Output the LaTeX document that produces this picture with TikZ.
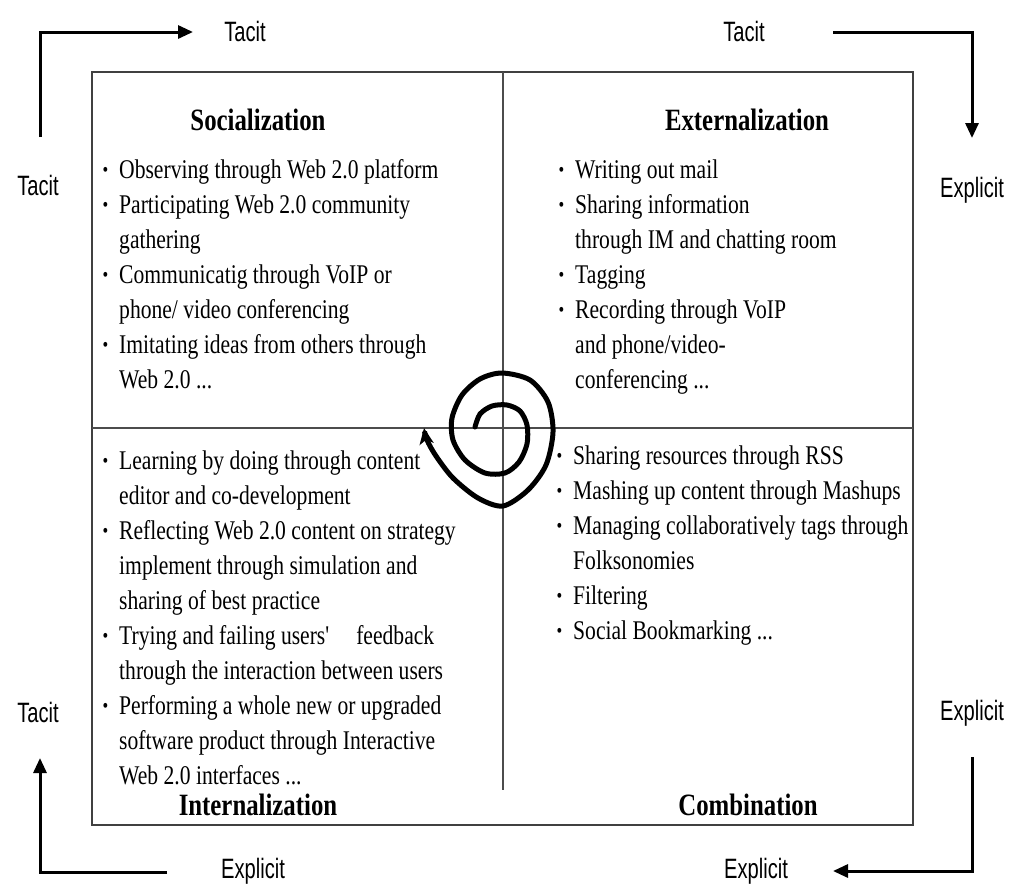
\documentclass[tikz,border=0pt]{standalone}
\usepackage{fontspec}
\usetikzlibrary{arrows.meta,calc}
\newfontfamily\serifnarrow{Liberation Serif}[FakeStretch=0.8]
\newfontfamily\sansnarrow{Liberation Sans}[FakeStretch=0.72]
\newcommand\itm{\llap{\raisebox{1.5pt}{\scalebox{0.75}{\textbullet}}\hspace{11pt}}}
\begin{document}
\begin{tikzpicture}[x=1pt,y=-1pt,
  axislabel/.style={font=\sansnarrow\fontsize{28}{30}\selectfont, inner sep=0pt, anchor=base},
  heading/.style={font=\serifnarrow\bfseries\fontsize{31}{36}\selectfont, inner sep=0pt, anchor=base},
  itemlist/.style={font=\serifnarrow\fontsize{27}{35}\selectfont, inner sep=0pt, anchor=north west, align=left},
  flow/.style={line width=3pt, -{Triangle[length=15pt,width=13pt]}},
  frame/.style={line width=2pt, draw=black!75},
  divider/.style={line width=1.5pt, draw=black!70},
  spiral/.style={line width=5pt, line cap=round, -{Stealth[length=16pt,width=14pt,inset=4pt]}}]

\fill[white] (0,0) rectangle (1014,884);
\useasboundingbox (0,0) rectangle (1014,884);

% quadrant frame and dividers
\draw[frame] (92,72) rectangle (913,825);
\draw[divider] (503,72) -- (503,790);
\draw[divider] (92,428) -- (913,428);

% headings
\node[heading] (soc) at (258,130) {Socialization};
\node[heading] (ext) at (747,130) {Externalization};
\node[heading] (int) at (258,815) {Internalization};
\node[heading] (com) at (748,815) {Combination};

% bullet lists
\node[itemlist] (socList) at (119,153.5) {\strut\itm Observing through Web 2.0 platform\\
\itm Participating Web 2.0 community\\
gathering\\
\itm Communicatig through VoIP or\\
phone/ video conferencing\\
\itm Imitating ideas from others through\\
Web 2.0 ...};

\node[itemlist] (extList) at (575,153.5) {\strut\itm Writing out mail\\
\itm Sharing information\\
through IM and chatting room\\
\itm Tagging\\
\itm Recording through VoIP\\
and phone/video-\\
conferencing ...};

\node[itemlist] (intList) at (119,444.5) {\strut\itm Learning by doing through content\\
editor and co-development\\
\itm Reflecting Web 2.0 content on strategy\\
implement through simulation and\\
sharing of best practice\\
\itm Trying and failing users'\quad feedback\\
through the interaction between users\\
\itm Performing a whole new or upgraded\\
software product through Interactive\\
Web 2.0 interfaces ...};

\node[itemlist] (comList) at (573,439.5) {\strut\itm Sharing resources through RSS\\
\itm Mashing up content through Mashups\\
\itm Managing collaboratively tags through\\
Folksonomies\\
\itm Filtering\\
\itm Social Bookmarking ...};

% outer axis labels
\node[axislabel] (tacitTop) at (245,41) {Tacit};
\node[axislabel] (tacitTopR) at (744,41) {Tacit};
\node[axislabel] (tacitLeft) at (38,195) {Tacit};
\node[axislabel] (tacitLeftB) at (38,722) {Tacit};
\node[axislabel] (explRight) at (972,197) {Explicit};
\node[axislabel] (explRightB) at (972,720) {Explicit};
\node[axislabel] (explBotL) at (253,878) {Explicit};
\node[axislabel] (explBotR) at (756,878) {Explicit};

% conversion arrows round the corners
\draw[flow] ($(tacitLeft.base)+(2,-58)$) |- ($(tacitTop.base)+(-52,-9)$);
\draw[flow] ($(tacitTopR.base)+(89,-9)$) -| ($(explRight.base)+(0,-59)$);
\draw[flow] ($(explRightB.base)+(0,37)$) |- ($(explBotR.base)+(77,-7)$);
\draw[flow] ($(explBotL.base)+(-86,-6)$) -| ($(tacitLeftB.base)+(2,36)$);

% knowledge spiral
\draw[spiral] plot[smooth] coordinates {
  (475,427) (480,414) (492,406) (507,405) (520,411) (527,425) (527,444)
  (519,462) (505,473) (485,473) (465,460) (453,440) (452,418) (462,395)
  (480,379) (502,373) (530,380) (548,402) (553,432) (546,465) (528,490)
  (503,506) (478,498) (453,478) (436,456) (427,440) (424,428)};
\end{tikzpicture}
\end{document}
